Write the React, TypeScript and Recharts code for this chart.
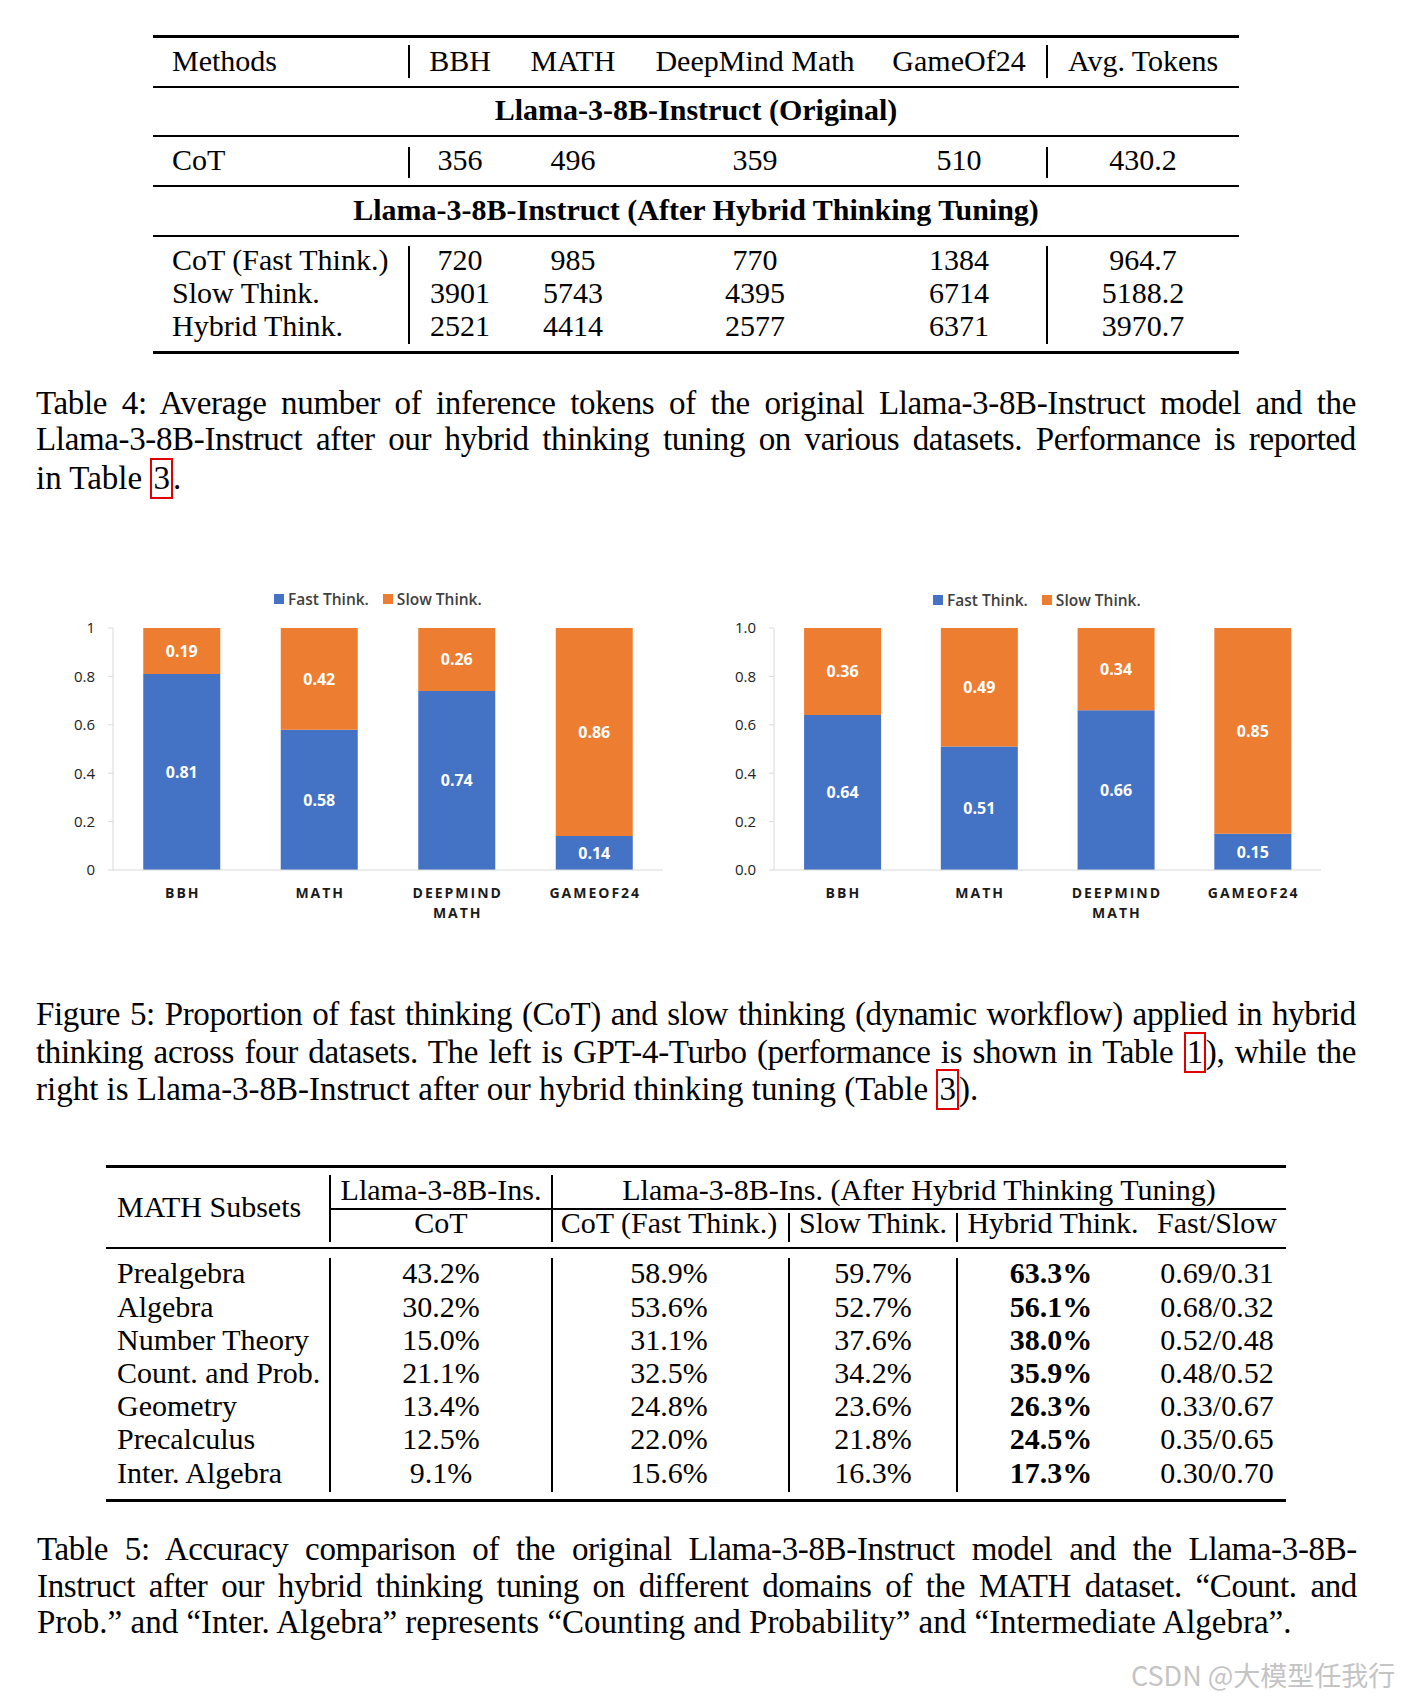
import { BarChart, Bar, XAxis, YAxis, LabelList } from 'recharts';

// ---- figure 5 data ----
const datasets = ['BBH', 'MATH', 'DEEPMIND MATH', 'GAMEOF24'];
const gptFast = [0.81, 0.58, 0.74, 0.14];
const gptSlow = [0.19, 0.42, 0.26, 0.86];
const llamaFast = [0.64, 0.51, 0.66, 0.15];
const llamaSlow = [0.36, 0.49, 0.34, 0.85];
const proportionTicks = [0, 0.2, 0.4, 0.6, 0.8, 1];
const seriesNames = ['Fast Think.', 'Slow Think.'];
const seriesColors = ['#4472C4', '#ED7D31'];

// ---- table 4 data ----
const t4Header = ['Methods', 'BBH', 'MATH', 'DeepMind Math', 'GameOf24', 'Avg. Tokens'];
const t4OriginalTitle = 'Llama-3-8B-Instruct (Original)';
const t4OriginalRows = [['CoT', '356', '496', '359', '510', '430.2']];
const t4TunedTitle = 'Llama-3-8B-Instruct (After Hybrid Thinking Tuning)';
const t4TunedRows = [
  ['CoT (Fast Think.)', '720', '985', '770', '1384', '964.7'],
  ['Slow Think.', '3901', '5743', '4395', '6714', '5188.2'],
  ['Hybrid Think.', '2521', '4414', '2577', '6371', '3970.7'],
];

// ---- table 5 data ----
const t5GroupHeader = ['Llama-3-8B-Ins.', 'Llama-3-8B-Ins. (After Hybrid Thinking Tuning)'];
const t5Header = ['MATH Subsets', 'CoT', 'CoT (Fast Think.)', 'Slow Think.', 'Hybrid Think.', 'Fast/Slow'];
const t5Rows = [
  ['Prealgebra', '43.2%', '58.9%', '59.7%', '63.3%', '0.69/0.31'],
  ['Algebra', '30.2%', '53.6%', '52.7%', '56.1%', '0.68/0.32'],
  ['Number Theory', '15.0%', '31.1%', '37.6%', '38.0%', '0.52/0.48'],
  ['Count. and Prob.', '21.1%', '32.5%', '34.2%', '35.9%', '0.48/0.52'],
  ['Geometry', '13.4%', '24.8%', '23.6%', '26.3%', '0.33/0.67'],
  ['Precalculus', '12.5%', '22.0%', '21.8%', '24.5%', '0.35/0.65'],
  ['Inter. Algebra', '9.1%', '15.6%', '16.3%', '17.3%', '0.30/0.70'],
];

// ---- captions ([n] = boxed reference) ----
const table4Caption = [
  'Table 4:  Average number of inference tokens of the original Llama-3-8B-Instruct model and the',
  'Llama-3-8B-Instruct after our hybrid thinking tuning on various datasets.  Performance is reported',
  'in Table [3].',
];
const figure5Caption = [
  'Figure 5: Proportion of fast thinking (CoT) and slow thinking (dynamic workflow) applied in hybrid',
  'thinking across four datasets. The left is GPT-4-Turbo (performance is shown in Table [1]), while the',
  'right is Llama-3-8B-Instruct after our hybrid thinking tuning (Table [3]).',
];
const table5Caption = [
  'Table 5:  Accuracy comparison of the original Llama-3-8B-Instruct model and the Llama-3-8B-',
  'Instruct after our hybrid thinking tuning on different domains of the MATH dataset.  “Count.  and',
  'Prob.” and “Inter. Algebra” represents “Counting and Probability” and “Intermediate Algebra”.',
];

const SERIF = '"Liberation Serif", "Times New Roman", serif';
const SANS = '"Open Sans", sans-serif';
const FS = 30;
const CAPTION_FS = 33;

function Txt({ x, y, align = 'center', bold = false, size = FS, children }: any) {
  const lh = 36;
  const base: any = {
    position: 'absolute', top: y - lh / 2, height: lh, lineHeight: `${lh}px`,
    fontSize: size, fontWeight: bold ? 700 : 400, whiteSpace: 'nowrap',
  };
  if (align === 'left') return <div style={{ ...base, left: x }}>{children}</div>;
  return <div style={{ ...base, left: x - 500, width: 1000, textAlign: 'center' }}>{children}</div>;
}

function HLine({ x1, x2, y, t = 2 }: any) {
  return <div style={{ position: 'absolute', left: x1, width: x2 - x1, top: y - t / 2, height: t, background: '#000' }} />;
}

function VLine({ x, y1, y2, t = 1.3 }: any) {
  return <div style={{ position: 'absolute', left: x - t / 2, width: t, top: y1, height: y2 - y1, background: '#000' }} />;
}

function CaptionLine({ text, last }: any) {
  const parts = text.split(/\[(\d)\]/);
  return (
    <div style={{ height: 36.5, lineHeight: '36.5px', textAlign: 'justify', textAlignLast: last ? 'left' : 'justify', letterSpacing: last ? 0 : -0.35 } as any}>
      {parts.map((p: string, i: number) =>
        i % 2 === 1 ? (
          <span key={i} style={{ display: 'inline-block', border: '2.5px solid #e00000', lineHeight: '37px', padding: '0 1px' }}>{p}</span>
        ) : (
          <span key={i}>{p}</span>
        ),
      )}
    </div>
  );
}

function Caption({ lines, top, left = 36 }: any) {
  return (
    <div style={{ position: 'absolute', left, top, width: 1320, fontSize: CAPTION_FS }}>
      {lines.map((l: string, i: number) => <CaptionLine key={i} text={l} last={i === lines.length - 1} />)}
    </div>
  );
}

function Table4() {
  const cols = [172, 460, 573, 755, 959, 1143];
  const rowY = [259.8, 293.4, 325.9];
  const row = (cells: string[], y: number) =>
    cells.map((c, i) => <Txt key={i} x={cols[i]} y={y} align={i === 0 ? 'left' : 'center'}>{c}</Txt>);
  return (
    <>
      <HLine x1={153} x2={1239} y={36} t={3} />
      {row(t4Header, 61)}
      <HLine x1={153} x2={1239} y={87} />
      <Txt x={696} y={110} bold>{t4OriginalTitle}</Txt>
      <HLine x1={153} x2={1239} y={136} />
      {t4OriginalRows.map((r, i) => <div key={i}>{row(r, 160)}</div>)}
      <HLine x1={153} x2={1239} y={186} />
      <Txt x={696} y={210} bold>{t4TunedTitle}</Txt>
      <HLine x1={153} x2={1239} y={236} />
      {t4TunedRows.map((r, i) => <div key={i}>{row(r, rowY[i])}</div>)}
      <HLine x1={153} x2={1239} y={352} t={3} />
      {[409, 1047].map((x) => (
        <div key={x}>
          <VLine x={x} y1={45} y2={78} />
          <VLine x={x} y1={147} y2={178} />
          <VLine x={x} y1={246} y2={344} />
        </div>
      ))}
    </>
  );
}

function Table5() {
  const cols = [117, 441, 669, 873, 1051, 1217];
  const headCols = [117, 441, 669, 873, 1053, 1217];
  return (
    <>
      <HLine x1={106} x2={1286} y={1166} t={3} />
      <Txt x={441} y={1190}>{t5GroupHeader[0]}</Txt>
      <Txt x={919} y={1190}>{t5GroupHeader[1]}</Txt>
      <HLine x1={330} x2={1286} y={1209} t={1.5} />
      <Txt x={117} y={1207} align="left">{t5Header[0]}</Txt>
      {t5Header.slice(1).map((h, i) => <Txt key={h} x={headCols[i + 1]} y={1223}>{h}</Txt>)}
      <HLine x1={106} x2={1286} y={1248} t={2.5} />
      {t5Rows.map((r, ri) => (
        <div key={ri}>
          {r.map((c, ci) => (
            <Txt key={ci} x={cols[ci]} y={1273.3 + ri * 33.2} align={ci === 0 ? 'left' : 'center'} bold={ci === 4}>{c}</Txt>
          ))}
        </div>
      ))}
      <HLine x1={106} x2={1286} y={1500} t={3} />
      <VLine x={330} y1={1175} y2={1242} />
      <VLine x={552} y1={1175} y2={1242} />
      <VLine x={789} y1={1213} y2={1242} />
      <VLine x={957} y1={1213} y2={1242} />
      {[330, 552, 789, 957].map((x) => <VLine key={x} x={x} y1={1258} y2={1492} />)}
    </>
  );
}

function DatasetTick({ x, y, payload }: any) {
  const words = String(payload.value).split(' ');
  return (
    <text x={x} y={y} textAnchor="middle" fill="#1a1a1a" fontFamily={SANS} fontWeight={700} fontSize={14} letterSpacing={2}>
      {words.map((w, i) => (
        <tspan key={w} x={x + 1} dy={i === 0 ? 28 : 20}>{w}</tspan>
      ))}
    </text>
  );
}

function ChartLegend({ left, top }: any) {
  return (
    <div style={{ position: 'absolute', left, top, height: 18, display: 'flex', alignItems: 'center', fontFamily: SANS, fontSize: 15.5, fontWeight: 600, color: '#404040', whiteSpace: 'nowrap' }}>
      {seriesNames.map((n, i) => (
        <span key={n} style={{ display: 'flex', alignItems: 'center', marginRight: i === 0 ? 14 : 0 }}>
          <span style={{ width: 10, height: 10, background: seriesColors[i], marginRight: 4 }} />
          {n}
        </span>
      ))}
    </div>
  );
}

function ProportionChart({ fast, slow, left, width, margin, tickFormatter }: any) {
  const data = datasets.map((name, i) => ({ name, fast: fast[i], slow: slow[i] }));
  const label = { fill: '#fff', fontFamily: SANS, fontWeight: 700, fontSize: 16 };
  return (
    <div style={{ position: 'absolute', left, top: 580 }}>
      <BarChart width={width} height={360} data={data} margin={margin} barCategoryGap="22%">
        <XAxis dataKey="name" interval={0} height={40} tickSize={0} tickMargin={0} tickLine={false}
          axisLine={{ stroke: '#d9d9d9' }} tick={<DatasetTick />} />
        <YAxis domain={[0, 1]} ticks={proportionTicks} tickFormatter={tickFormatter} width={60}
          axisLine={{ stroke: '#d9d9d9' }} tickLine={{ stroke: '#d9d9d9' }} tickSize={5} tickMargin={13}
          tick={{ fill: '#222', fontSize: 15, fontFamily: SANS }} />
        <Bar dataKey="fast" stackId="p" fill={seriesColors[0]} isAnimationActive={false}>
          <LabelList dataKey="fast" position="center" formatter={(v: any) => Number(v).toFixed(2)} {...label} />
        </Bar>
        <Bar dataKey="slow" stackId="p" fill={seriesColors[1]} isAnimationActive={false}>
          <LabelList dataKey="slow" position="center" formatter={(v: any) => Number(v).toFixed(2)} {...label} />
        </Bar>
      </BarChart>
    </div>
  );
}

export default function App() {
  return (
    <div style={{ position: 'absolute', left: 0, top: 0, width: 1401, height: 1698, background: '#fff', overflow: 'hidden', fontFamily: SERIF, color: '#000' }}>
      <Table4 />
      <Caption lines={table4Caption} top={384.7} />

      <ChartLegend left={274} top={590} />
      <ProportionChart fast={gptFast} slow={gptSlow} left={40} width={650}
        margin={{ top: 48, right: 27, left: 13, bottom: 30 }} tickFormatter={(v: number) => String(v)} />
      <ChartLegend left={933} top={591} />
      <ProportionChart fast={llamaFast} slow={llamaSlow} left={690} width={660}
        margin={{ top: 48, right: 29, left: 24, bottom: 30 }} tickFormatter={(v: number) => v.toFixed(1)} />

      <Caption lines={figure5Caption} top={995.8} />
      <Table5 />
      <Caption lines={table5Caption} top={1531} left={37} />

      <div style={{ position: 'absolute', left: 1131, top: 1655, fontFamily: '"Noto Sans CJK SC", sans-serif', fontSize: 27, color: '#c4c4c4', whiteSpace: 'nowrap' }}>
        CSDN @大模型任我行
      </div>
    </div>
  );
}
